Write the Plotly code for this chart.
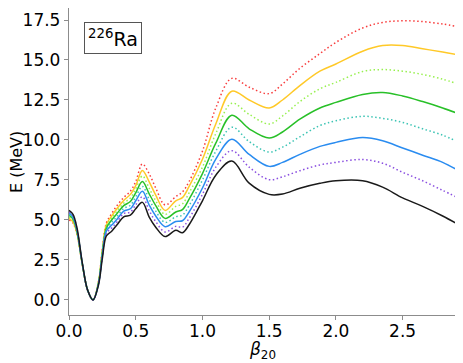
import plotly.graph_objects as go

# ---------------------------------------------------------------------------
# Data: potential energy curves of 226Ra vs quadrupole deformation
# ---------------------------------------------------------------------------

beta20 = [0.0, 0.03, 0.06, 0.1, 0.14, 0.18, 0.22, 0.25, 0.28, 0.32,
          0.36, 0.41, 0.46, 0.5, 0.55, 0.6, 0.65, 0.72, 0.8, 0.85,
          0.9, 1.0, 1.1, 1.22, 1.35, 1.5, 1.6, 1.73, 1.88, 2.0,
          2.2, 2.35, 2.5, 2.65, 2.8, 2.9]

e_black = [5.6, 5.35, 4.5, 2.3, 0.6, 0.0, 0.9, 2.6, 4.0, 4.3,
           4.7, 5.2, 5.3, 5.7, 6.1, 5.2, 4.55, 3.96, 4.35, 4.2,
           4.7, 6.2, 7.8, 8.68, 7.3, 6.6, 6.62, 6.98, 7.29, 7.45,
           7.45, 7.05, 6.38, 5.85, 5.25, 4.8]
e_purple = [5.5, 5.27, 4.43, 2.28, 0.6, 0.0, 0.93, 2.7, 4.15, 4.5,
            4.88, 5.4, 5.5, 5.95, 6.45, 5.6, 4.9, 4.25, 4.6, 4.55,
            5.1, 6.6, 8.3, 9.33, 8.3, 7.52, 7.7, 8.08, 8.44, 8.6,
            8.78, 8.55, 7.98, 7.45, 6.85, 6.45]
e_blue = [5.45, 5.2, 4.37, 2.26, 0.6, 0.0, 0.96, 2.8, 4.3, 4.68,
          5.05, 5.55, 5.7, 6.2, 6.8, 5.95, 5.25, 4.58, 4.9, 4.95,
          5.5, 7.0, 8.8, 10.05, 9.1, 8.35, 8.6, 9.1, 9.6, 9.85,
          10.15, 9.95, 9.5, 9.05, 8.6, 8.17]
e_teal = [5.35, 5.12, 4.3, 2.25, 0.6, 0.0, 0.99, 2.88, 4.4, 4.85,
          5.22, 5.72, 5.92, 6.45, 7.1, 6.3, 5.55, 4.85, 5.2, 5.3,
          5.9, 7.5, 9.3, 10.8, 9.9, 9.25, 9.55, 10.2, 10.9, 11.2,
          11.48, 11.35, 11.1, 10.7, 10.3, 9.94]
e_green = [5.3, 5.05, 4.25, 2.24, 0.6, 0.0, 1.02, 2.96, 4.5, 5.0,
           5.4, 5.9, 6.15, 6.7, 7.4, 6.65, 5.9, 5.1, 5.5, 5.65,
           6.3, 7.9, 9.8, 11.55, 10.7, 10.12, 10.5, 11.3, 12.0, 12.35,
           12.85, 12.97, 12.75, 12.4, 12.0, 11.7]
e_lgreen = [5.2, 4.97, 4.2, 2.22, 0.6, 0.0, 1.05, 3.04, 4.6, 5.12,
            5.55, 6.05, 6.38, 6.95, 7.75, 7.0, 6.2, 5.35, 5.85, 6.0,
            6.7, 8.3, 10.4, 12.3, 11.6, 11.0, 11.5, 12.4, 13.2, 13.6,
            14.28, 14.4, 14.3, 14.1, 13.8, 13.54]
e_yellow = [5.1, 4.88, 4.15, 2.21, 0.6, 0.0, 1.08, 3.12, 4.7, 5.25,
            5.72, 6.22, 6.6, 7.15, 8.1, 7.4, 6.55, 5.6, 6.2, 6.4,
            7.1, 8.8, 11.0, 13.05, 12.5, 12.0, 12.5, 13.4, 14.3, 14.75,
            15.55, 15.9, 15.9, 15.7, 15.5, 15.35]
e_red = [5.0, 4.8, 4.1, 2.2, 0.6, 0.0, 1.1, 3.2, 4.8, 5.4,
         5.9, 6.4, 6.8, 7.4, 8.5, 7.9, 7.0, 5.94, 6.46, 6.75,
         7.4, 9.3, 12.0, 13.85, 13.3, 12.9, 13.5, 14.48, 15.4, 16.1,
         17.0, 17.35, 17.45, 17.4, 17.25, 17.1]

x_ticks = [0.0, 0.5, 1.0, 1.5, 2.0, 2.5]
y_ticks = [0.0, 2.5, 5.0, 7.5, 10.0, 12.5, 15.0, 17.5]

DOTTED = "1.5px,2.5px"   # fine dots, like matplotlib ':'

# (values, colour, dash) from bottom curve to top curve
curves = [
    (e_black, "#1a1a1a", "solid"),
    (e_purple, "#8a4fe0", DOTTED),
    (e_blue, "#2a8cf0", "solid"),
    (e_teal, "#3cc4b4", DOTTED),
    (e_green, "#28c028", "solid"),
    (e_lgreen, "#98f050", DOTTED),
    (e_yellow, "#ffc928", "solid"),
    (e_red, "#f83c3c", DOTTED),
]

fig = go.Figure()
for vals, color, dash in reversed(curves):
    fig.add_trace(go.Scatter(
        x=beta20, y=vals, mode="lines",
        line=dict(color=color, width=1.5, dash=dash, shape="spline", smoothing=1.0),
        showlegend=False, hoverinfo="skip",
    ))

axis_common = dict(
    showgrid=False, zeroline=False, automargin=False,
    showline=True, mirror=True, linecolor="#8c8c8c", linewidth=1.3,
    ticks="outside", ticklen=4, tickcolor="#8c8c8c", tickwidth=1,
    tickfont=dict(size=17, color="black"),
    tickformat=".1f",
)

# the page body adds an 8px offset, so the figure is drawn 8px smaller
fig.update_layout(
    width=455, height=355,
    margin=dict(l=61, r=7, t=0, b=48, autoexpand=False),
    paper_bgcolor="white", plot_bgcolor="white",
    font=dict(family="DejaVu Sans", color="black"),
    xaxis=dict(range=[0, 2.9], tickvals=x_ticks, ticklabelstandoff=-4, **axis_common),
    yaxis=dict(range=[-0.94, 18.25], tickvals=y_ticks, **axis_common),
    annotations=[
        dict(x=0.04, y=0.955, xref="paper", yref="paper",
             xanchor="left", yanchor="top", showarrow=False,
             text="<sup>226</sup>Ra", font=dict(size=19, color="black"),
             bordercolor="#555555", borderwidth=1, borderpad=3, bgcolor="white"),
        # axis titles placed by hand
        dict(x=0.5, y=-0.072, xref="paper", yref="paper",
             xanchor="center", yanchor="top", showarrow=False,
             text="<i>β</i><sub>20</sub>", font=dict(size=17, color="black")),
        dict(x=-0.1357, y=0.5, xref="paper", yref="paper",
             xanchor="center", yanchor="middle", showarrow=False, textangle=-90,
             text="E (MeV)", font=dict(size=16, color="black")),
    ],
)

fig.write_html("out.html")
